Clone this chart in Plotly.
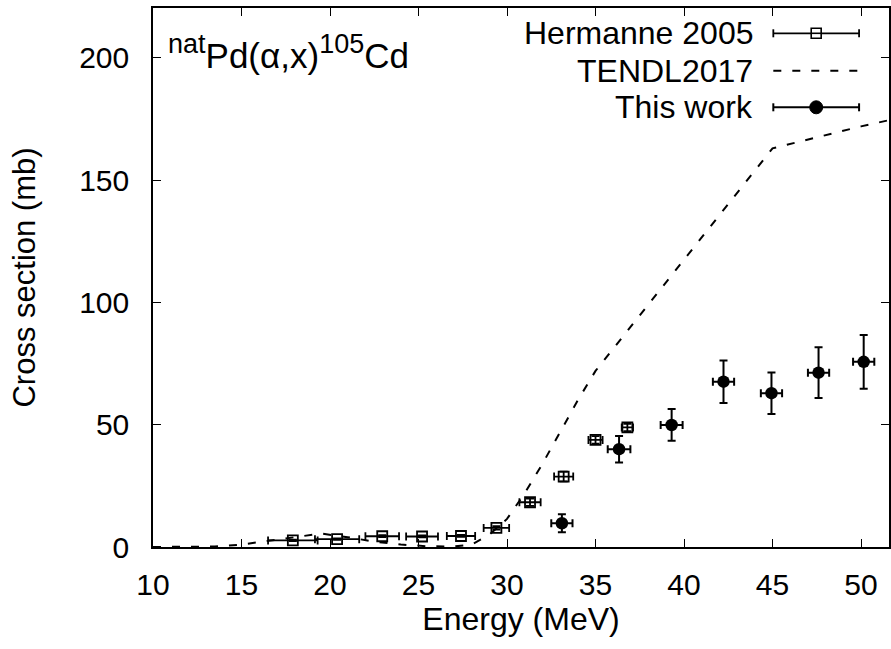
import plotly.graph_objects as go

# ---- data ----
herm_E = [17.9, 20.4, 22.95, 25.2, 27.4, 29.4, 31.3, 33.2, 35.0, 36.8]
herm_dE = [1.4, 1.25, 0.95, 0.9, 0.8, 0.72, 0.6, 0.54, 0.4, 0.32]
herm_xs = [2.7, 3.2, 4.4, 4.3, 4.5, 7.8, 18.3, 28.8, 43.8, 48.9]
herm_dxs = [0.3, 0.3, 0.4, 0.4, 0.4, 0.7, 1.5, 2.0, 1.5, 1.5]

tendl_E = [10, 12, 13.5, 15, 16.5, 18, 19.5, 21, 22.5, 24, 25.5, 27, 28, 29, 30, 31, 32, 33, 34, 35, 45, 50, 55]
tendl_xs = [0, 0, 0.2, 1.0, 2.5, 4.2, 5.5, 4.0, 2.2, 1.0, 0.3, 0.2, 1.0, 5.0, 11.5, 22, 34, 47, 60, 72, 163, 172, 180]

work_E = [33.1, 36.33, 39.3, 42.23, 44.94, 47.6, 50.15]
work_dE = [0.6, 0.64, 0.62, 0.6, 0.6, 0.6, 0.6]
work_xs = [9.7, 40.0, 49.9, 67.6, 62.9, 71.3, 75.7]
work_dxs = [3.7, 5.4, 6.5, 8.7, 8.5, 10.4, 11.0]

legend_names = ["Hermanne 2005", "TENDL2017", "This work"]

FONT = "Liberation Sans, Arial, sans-serif"
fig = go.Figure()

fig.add_trace(go.Scatter(
    x=herm_E, y=herm_xs, mode="markers", name=legend_names[0],
    marker=dict(symbol="square-open", size=10, color="black", line=dict(width=1.8, color="black")),
    error_x=dict(type="data", array=herm_dE, thickness=1.8, width=4, color="black"),
    error_y=dict(type="data", array=herm_dxs, thickness=1.8, width=4, color="black"),
    showlegend=False))

fig.add_trace(go.Scatter(
    x=tendl_E, y=tendl_xs, mode="lines", name=legend_names[1],
    line=dict(color="black", width=2, dash="8px,11px"), showlegend=False))

fig.add_trace(go.Scatter(
    x=work_E, y=work_xs, mode="markers", name=legend_names[2],
    marker=dict(symbol="circle", size=12.5, color="black"),
    error_x=dict(type="data", array=work_dE, thickness=2, width=4, color="black"),
    error_y=dict(type="data", array=work_dxs, thickness=2, width=4, color="black"),
    showlegend=False))

# ---- layout ----
L, R, T, B = 153, 0, 8, 102
W, H = 891, 649
pw, ph = W - L - R, H - T - B

def px(xp):
    return (xp - L) / pw

def py(yp):
    return (H - B - yp) / ph

fig.update_layout(
    width=W, height=H, margin=dict(l=L, r=R, t=T, b=B),
    paper_bgcolor="white", plot_bgcolor="white",
    font=dict(family=FONT, size=30, color="black"),
    xaxis=dict(range=[10, 51.58], tickmode="array", tickvals=[10, 15, 20, 25, 30, 35, 40, 45, 50],
               ticks="inside", ticklen=8, tickwidth=1, tickcolor="black", mirror="ticks",
               showline=True, linecolor="black", linewidth=1.5, showgrid=False, zeroline=False,
               tickfont=dict(size=30), ticklabelstandoff=10,
               title=dict(text="Energy (MeV)", font=dict(size=32), standoff=8)),
    yaxis=dict(range=[0, 220.4], tickmode="array", tickvals=[0, 50, 100, 150, 200],
               ticks="inside", ticklen=8, tickwidth=1, tickcolor="black", mirror="ticks",
               showline=True, linecolor="black", linewidth=1.5, showgrid=False, zeroline=False,
               tickfont=dict(size=30), ticklabelstandoff=16,
               title=dict(text="Cross section (mb)", font=dict(size=31), standoff=34)),
)

# title annotation
fig.add_annotation(x=px(166), y=py(52), xref="paper", yref="paper", xanchor="left", yanchor="middle",
                   text="<sup><span style='font-size:27px'>nat</span></sup>Pd(α,x)"
                        "<sup><span style='font-size:27px'>105</span></sup>Cd",
                   showarrow=False, font=dict(size=35, family=FONT))

# manual legend (gnuplot style: text then sample on the right)
rows = [33.3, 70.7, 107.3]
x_text = 757
x0s, x1s, xc = 775, 861, 818
shapes = []
for name, yr in zip(legend_names, rows):
    fig.add_annotation(x=px(x_text), y=py(yr), xref="paper", yref="paper", xanchor="right", yanchor="middle",
                       text=name, showarrow=False, font=dict(size=32, family=FONT))
# Hermanne sample
y1 = rows[0]
shapes.append(dict(type="line", xref="paper", yref="paper", x0=px(x0s), x1=px(x1s), y0=py(y1), y1=py(y1),
                   line=dict(color="black", width=1.8)))
for xx in (x0s, x1s):
    shapes.append(dict(type="line", xref="paper", yref="paper", x0=px(xx), x1=px(xx), y0=py(y1 - 4), y1=py(y1 + 4),
                       line=dict(color="black", width=1.8)))
shapes.append(dict(type="rect", xref="paper", yref="paper", x0=px(xc - 5), x1=px(xc + 5), y0=py(y1 + 5), y1=py(y1 - 5),
                   line=dict(color="black", width=1.6), fillcolor="white"))
shapes.append(dict(type="line", xref="paper", yref="paper", x0=px(xc - 5), x1=px(xc + 5), y0=py(y1), y1=py(y1),
                   line=dict(color="black", width=1.6)))
# TENDL sample
y2 = rows[1]
shapes.append(dict(type="line", xref="paper", yref="paper", x0=px(x0s), x1=px(x1s), y0=py(y2), y1=py(y2),
                   line=dict(color="black", width=2, dash="8px,11px")))
# This work sample
y3 = rows[2]
shapes.append(dict(type="line", xref="paper", yref="paper", x0=px(x0s), x1=px(x1s), y0=py(y3), y1=py(y3),
                   line=dict(color="black", width=2)))
for xx in (x0s, x1s):
    shapes.append(dict(type="line", xref="paper", yref="paper", x0=px(xx), x1=px(xx), y0=py(y3 - 4), y1=py(y3 + 4),
                       line=dict(color="black", width=2)))
shapes.append(dict(type="circle", xref="paper", yref="paper", x0=px(xc - 6.5), x1=px(xc + 6.5), y0=py(y3 + 6.5),
                   y1=py(y3 - 6.5), line=dict(color="black", width=1), fillcolor="black"))
fig.update_layout(shapes=shapes)

fig.write_html("out.html")
